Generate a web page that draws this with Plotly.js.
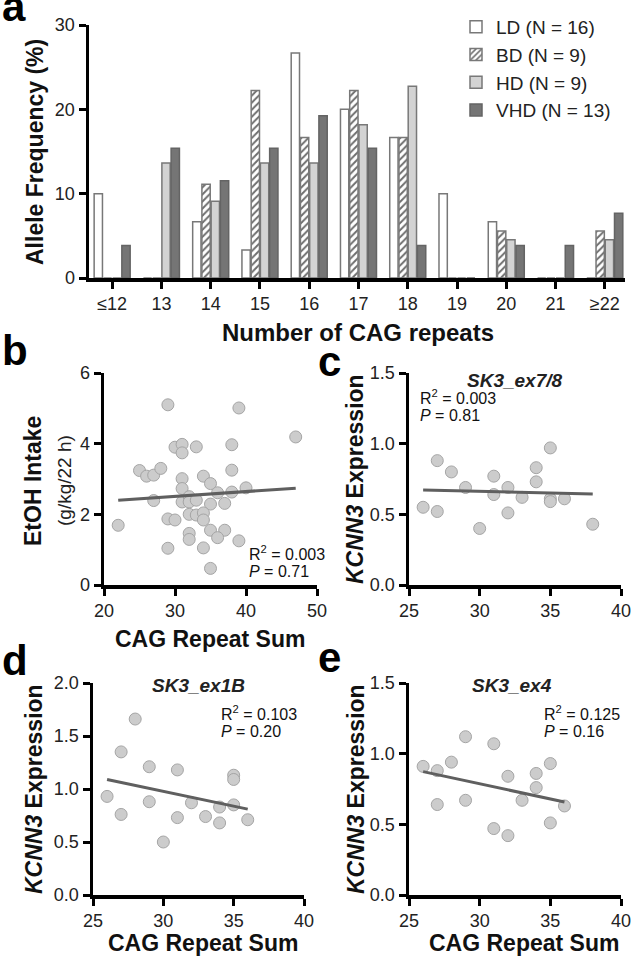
<!DOCTYPE html>
<html>
<head>
<meta charset="utf-8">
<script src="https://cdn.plot.ly/plotly-3.0.1.min.js"></script>
<style>
  html, body { margin: 0; padding: 0; background: #fff; }
  #fig { width: 633px; height: 962px; }
</style>
</head>
<body>
<div id="fig"></div>
<script>
// panel a: allele frequency by CAG repeat number
const cagBins = ['≤12', '13', '14', '15', '16', '17', '18', '19', '20', '21', '≥22'];
const freqLD = [10, 0, 6.67, 3.33, 26.67, 20, 16.67, 10, 6.67, 0, 0];
const freqBD = [0, 0, 11.11, 22.22, 16.67, 22.22, 16.67, 0, 5.56, 0, 5.56];
const freqHD = [0, 13.64, 9.09, 13.64, 13.64, 18.18, 22.73, 0, 4.55, 0, 4.55];
const freqVHD = [3.85, 15.38, 11.54, 15.38, 19.23, 15.38, 3.85, 0, 3.85, 3.85, 7.69];

// panel b: EtOH intake vs CAG repeat sum
const bX = [22, 29, 39, 47, 25, 26, 27, 28, 27, 30, 31, 31, 33, 38, 38, 31, 31, 34, 35, 36, 38, 40,
  31, 32, 32, 33, 35, 37, 29, 30, 32, 33, 34, 34, 32, 32, 35, 37, 36, 39, 29, 34, 35];
const bY = [1.69, 5.10, 5.01, 4.19, 3.24, 3.08, 3.11, 3.30, 2.39, 3.90, 3.98, 3.74, 3.91, 3.97, 3.25, 3.01, 2.73, 3.08, 2.87, 2.61, 2.63, 2.75,
  2.35, 2.50, 2.35, 2.40, 2.29, 2.31, 1.87, 1.84, 2.00, 1.98, 2.04, 1.84, 1.46, 1.29, 1.55, 1.55, 1.34, 1.25, 1.04, 1.05, 0.47];
const fitBX = [22, 47];
const fitBY = [2.40, 2.74];

// panel c: SK3_ex7/8
const cX = [26, 27, 27, 28, 29, 30, 31, 31, 32, 32, 33, 34, 34, 35, 35, 35, 36, 38];
const cY = [0.55, 0.88, 0.52, 0.80, 0.69, 0.40, 0.77, 0.64, 0.69, 0.51, 0.62, 0.83, 0.73, 0.97, 0.61, 0.59, 0.61, 0.43];
const fitCX = [26, 38];
const fitCY = [0.673, 0.643];

// panel d: SK3_ex1B
const dX = [26, 27, 27, 28, 29, 29, 30, 31, 31, 32, 33, 34, 34, 35, 35, 35, 36];
const dY = [0.93, 1.35, 0.76, 1.66, 1.21, 0.88, 0.50, 1.18, 0.73, 0.87, 0.74, 0.83, 0.68, 1.13, 1.09, 0.85, 0.71];
const fitDX = [26, 36];
const fitDY = [1.09, 0.81];

// panel e: SK3_ex4
const eX = [26, 27, 27, 28, 29, 29, 31, 31, 32, 32, 33, 34, 34, 35, 35, 36];
const eY = [0.91, 0.88, 0.64, 0.94, 1.12, 0.67, 1.07, 0.47, 0.84, 0.42, 0.67, 0.86, 0.76, 0.93, 0.51, 0.63];
const fitEX = [26, 36];
const fitEY = [0.873, 0.658];

const W = 633, H = 962;
const FONT = 'Liberation Sans, Arial, Helvetica, sans-serif';
function px(x) { return x / W; }
function py(y) { return 1 - y / H; }

const barLine = { color: '#787878', width: 1.5 };
const traces = [
  { type: 'bar', name: 'LD (N = 16)', x: cagBins, y: freqLD, xaxis: 'x', yaxis: 'y',
    marker: { color: '#ffffff', line: barLine } },
  { type: 'bar', name: 'BD (N = 9)', x: cagBins, y: freqBD, xaxis: 'x', yaxis: 'y',
    marker: { color: '#ffffff', line: barLine,
      pattern: { shape: '/', fgcolor: '#6e6e6e', bgcolor: '#ffffff', size: 5, solidity: 0.4 } } },
  { type: 'bar', name: 'HD (N = 9)', x: cagBins, y: freqHD, xaxis: 'x', yaxis: 'y',
    marker: { color: '#d3d3d3', line: barLine } },
  { type: 'bar', name: 'VHD (N = 13)', x: cagBins, y: freqVHD, xaxis: 'x', yaxis: 'y',
    marker: { color: '#757575', line: { color: '#646464', width: 1.5 } } }
];

const scatterPanels = [
  { xs: bX, ys: bY, fx: fitBX, fy: fitBY, ax: '2' },
  { xs: cX, ys: cY, fx: fitCX, fy: fitCY, ax: '3' },
  { xs: dX, ys: dY, fx: fitDX, fy: fitDY, ax: '4' },
  { xs: eX, ys: eY, fx: fitEX, fy: fitEY, ax: '5' }
];
scatterPanels.forEach(p => {
  traces.push({
    type: 'scatter', mode: 'markers', x: p.xs, y: p.ys,
    xaxis: 'x' + p.ax, yaxis: 'y' + p.ax, showlegend: false, cliponaxis: false,
    marker: { size: 12, color: '#cccccc', line: { color: '#a5a5a5', width: 1 } }
  });
  traces.push({
    type: 'scatter', mode: 'lines', x: p.fx, y: p.fy,
    xaxis: 'x' + p.ax, yaxis: 'y' + p.ax, showlegend: false,
    line: { color: '#5f5f5f', width: 3 }
  });
});

function axis(extra) {
  return Object.assign({
    showline: true, linewidth: 3.5, linecolor: '#000',
    ticks: 'outside', ticklen: 7, tickwidth: 3, tickcolor: '#000',
    showgrid: false, zeroline: false, fixedrange: true,
    tickfont: { family: FONT, size: 18, color: '#222' }
  }, extra);
}

const layout = {
  width: W, height: H,
  margin: { t: 0, l: 0, r: 0, b: 0 },
  paper_bgcolor: '#fff', plot_bgcolor: 'rgba(0,0,0,0)',
  font: { family: FONT, color: '#111' },
  barmode: 'group', bargap: 0.25, bargroupgap: 0.1,
  showlegend: true,
  legend: {
    x: px(456), y: py(8), xanchor: 'left', yanchor: 'top',
    font: { family: FONT, size: 19, color: '#222' },
    bgcolor: 'rgba(0,0,0,0)', tracegroupgap: 0
  },
  xaxis: axis({ domain: [px(89), px(625)], anchor: 'y', type: 'category',
    range: [-0.47, 10.41], tickmode: 'array', tickvals: cagBins }),
  yaxis: axis({ domain: [py(278), py(25)], anchor: 'x', range: [0, 30], dtick: 10 }),
  xaxis2: axis({ domain: [px(104), px(317)], anchor: 'y2', range: [20, 50], dtick: 10 }),
  yaxis2: axis({ domain: [py(585), py(373)], anchor: 'x2', range: [0, 6], dtick: 2 }),
  xaxis3: axis({ domain: [px(409), px(621)], anchor: 'y3', range: [25, 40], dtick: 5 }),
  yaxis3: axis({ domain: [py(585), py(373)], anchor: 'x3', range: [0, 1.5], dtick: 0.5, tickformat: '.1f' }),
  xaxis4: axis({ domain: [px(93), px(304)], anchor: 'y4', range: [25, 40], dtick: 5 }),
  yaxis4: axis({ domain: [py(895), py(683)], anchor: 'x4', range: [0, 2], dtick: 0.5, tickformat: '.1f' }),
  xaxis5: axis({ domain: [px(409), px(621)], anchor: 'y5', range: [25, 40], dtick: 5 }),
  yaxis5: axis({ domain: [py(895), py(683)], anchor: 'x5', range: [0, 1.5], dtick: 0.5, tickformat: '.1f' }),
  annotations: []
};

function note(text, x, y, opts) {
  layout.annotations.push(Object.assign({
    text: text, xref: 'paper', yref: 'paper', x: px(x), y: py(y),
    xanchor: 'center', yanchor: 'middle', showarrow: false,
    font: { family: FONT, size: 23, color: '#111' }
  }, opts || {}));
}

// panel letters
const letterFont = { family: FONT, size: 42, color: '#000' };
note('<b>a</b>', 0, 6, { xanchor: 'left', font: letterFont });
note('<b>b</b>', 0, 350, { xanchor: 'left', font: letterFont });
note('<b>c</b>', 316, 361, { xanchor: 'left', font: letterFont });
note('<b>d</b>', 0, 660, { xanchor: 'left', font: letterFont });
note('<b>e</b>', 316, 657, { xanchor: 'left', font: letterFont });

// axis titles
note('<b>Allele Frequency (%)</b>', 35, 152, { textangle: -90 });
note('<b>Number of CAG repeats</b>', 358, 332, { font: { family: FONT, size: 24, color: '#111' } });
note('<b>EtOH Intake</b>', 33, 481, { textangle: -90 });
note('(g/kg/22 h)', 64, 481, { textangle: -90, font: { family: FONT, size: 19, color: '#222' } });
note('<b><i>KCNN3</i> Expression</b>', 355, 479, { textangle: -90 });
note('<b><i>KCNN3</i> Expression</b>', 34, 789, { textangle: -90 });
note('<b><i>KCNN3</i> Expression</b>', 356, 789, { textangle: -90 });
note('<b>CAG Repeat Sum</b>', 210, 639);
note('<b>CAG Repeat Sum</b>', 203, 943);
note('<b>CAG Repeat Sum</b>', 524, 943);

// panel titles
const titleFont = { family: FONT, size: 19, color: '#222' };
note('<b><i>SK3_ex7/8</i></b>', 515, 380, { font: titleFont });
note('<b><i>SK3_ex1B</i></b>', 198, 685, { font: titleFont });
note('<b><i>SK3_ex4</i></b>', 512, 685, { font: titleFont });

// statistics
const statFont = { family: FONT, size: 16, color: '#111' };
function stats(r2, p, x, y) {
  note('R<sup>2</sup> = ' + r2, x, y, { xanchor: 'left', font: statFont });
  note('<i>P</i> = ' + p, x, y + 18, { xanchor: 'left', font: statFont });
}
stats('0.003', '0.71', 247, 553);
stats('0.003', '0.81', 418, 397);
stats('0.103', '0.20', 219, 713);
stats('0.125', '0.16', 542, 713);

Plotly.newPlot('fig', traces, layout, { staticPlot: true });
</script>
</body>
</html>
